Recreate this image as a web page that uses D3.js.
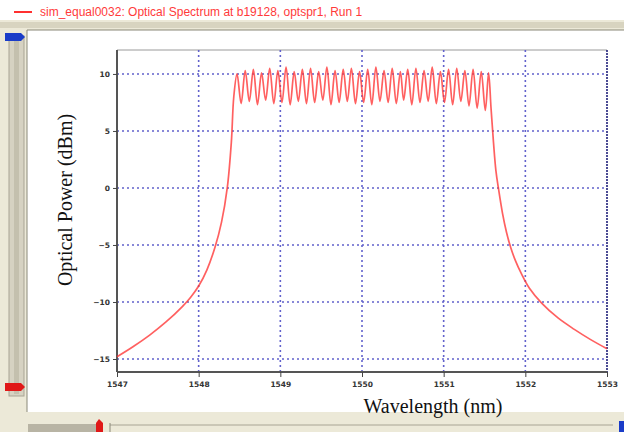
<!DOCTYPE html>
<html>
<head>
<meta charset="UTF-8">
<title>Optical Spectrum</title>
<script src="https://cdn.jsdelivr.net/npm/d3@7/dist/d3.min.js"></script>
<style>
  body { margin: 0; background: #fff; }
  svg { display: block; }
</style>
</head>
<body>
<script>
// --- data ---
var xTicks = [1547, 1548, 1549, 1550, 1551, 1552, 1553];
var yTicks = [10, 5, 0, -5, -10, -15];

// left skirt
var leftWl  = [1547.0, 1547.2, 1547.4, 1547.6, 1547.8, 1547.9, 1548.0, 1548.1, 1548.2, 1548.28, 1548.35, 1548.4, 1548.43];
var leftDbm = [-14.8, -13.9, -12.9, -11.75, -10.4, -9.6, -8.6, -7.2, -5.2, -3.0, 0.0, 4.0, 8.0];

// ripple on the flat top: peak, trough, peak, ...
var rippleWl = [1548.47, 1548.52, 1548.57, 1548.62, 1548.67, 1548.72, 1548.77, 1548.82, 1548.87, 1548.92,
  1548.97, 1549.02, 1549.07, 1549.12, 1549.17, 1549.22, 1549.27, 1549.32, 1549.37, 1549.42,
  1549.47, 1549.52, 1549.57, 1549.62, 1549.67, 1549.72, 1549.77, 1549.82, 1549.87, 1549.92,
  1549.97, 1550.02, 1550.07, 1550.12, 1550.17, 1550.22, 1550.27, 1550.32, 1550.37, 1550.42,
  1550.47, 1550.51, 1550.56, 1550.61, 1550.66, 1550.71, 1550.76, 1550.81, 1550.86, 1550.91,
  1550.96, 1551.01, 1551.06, 1551.11, 1551.16, 1551.21, 1551.26, 1551.31, 1551.36, 1551.41,
  1551.46, 1551.51, 1551.55];
var rippleDbm = [10.0, 7.4, 10.3, 7.6, 10.4, 7.3, 10.1, 7.7, 10.5, 7.4,
  10.3, 7.5, 10.6, 7.3, 10.2, 7.6, 10.4, 7.4, 10.5, 7.5,
  10.2, 7.7, 10.6, 7.3, 10.3, 7.5, 10.4, 7.6, 10.5, 7.4,
  10.2, 7.5, 10.4, 7.3, 10.6, 7.6, 10.3, 7.5, 10.5, 7.4,
  10.2, 7.7, 10.4, 7.3, 10.5, 7.5, 10.3, 7.6, 10.6, 7.4,
  10.2, 7.5, 10.4, 7.3, 10.5, 7.6, 10.3, 7.2, 10.4, 7.0,
  10.2, 6.8, 10.1];

// right skirt
var rightWl  = [1551.58, 1551.61, 1551.64, 1551.67, 1551.72, 1551.77, 1551.82, 1551.88, 1551.95, 1552.05, 1552.2, 1552.4, 1552.6, 1552.8, 1553.0];
var rightDbm = [7.0, 4.0, 1.5, 0.0, -2.2, -3.9, -5.2, -6.4, -7.5, -8.8, -10.1, -11.4, -12.4, -13.3, -14.1];

var legendText = "sim_equal0032: Optical Spectrum at b19128, optspr1, Run 1";

// --- layout ---
var W = 624, H = 432;
var pLeft = 117, pRight = 607, pTop = 50, pBottom = 372;

var svg = d3.select("body").append("svg")
  .attr("width", W)
  .attr("height", H);

// window chrome
svg.append("rect").attr("x", 0).attr("y", 0).attr("width", W).attr("height", H).attr("fill", "#fff");
svg.append("rect").attr("x", 0).attr("y", 20).attr("width", W).attr("height", 412).attr("fill", "#ece9d8");
svg.append("rect").attr("x", 0).attr("y", 22).attr("width", W).attr("height", 6).attr("fill", "#d8d4c0");
svg.append("rect").attr("x", 27).attr("y", 30).attr("width", W - 27).attr("height", 382).attr("fill", "#fff");
svg.append("line").attr("x1", 27).attr("x2", W).attr("y1", 30).attr("y2", 30).attr("stroke", "#8a8878");
svg.append("line").attr("x1", 27).attr("x2", 27).attr("y1", 30).attr("y2", 412).attr("stroke", "#8a8878");

// left slider track
svg.append("rect").attr("x", 9).attr("y", 36).attr("width", 15).attr("height", 360)
  .attr("fill", "#d6d2c2").attr("stroke", "#a8a494");
svg.append("rect").attr("x", 14).attr("y", 38).attr("width", 5).attr("height", 356).attr("fill", "#c4c0ae");
svg.append("path").attr("d", "M5,33 L21,33 L25,37 L21,41 L5,41 Z").attr("fill", "#1a3cc8");
svg.append("path").attr("d", "M5,383 L21,383 L25,387 L21,391 L5,391 Z").attr("fill", "#e01818");

// bottom slider track
svg.append("rect").attr("x", 28).attr("y", 424).attr("width", 68).attr("height", 8).attr("fill", "#b8b4a4");
svg.append("line").attr("x1", 110).attr("x2", 613).attr("y1", 425).attr("y2", 425).attr("stroke", "#a8a494");
svg.append("line").attr("x1", 110).attr("x2", 110).attr("y1", 423).attr("y2", 432).attr("stroke", "#8a8878");
svg.append("path").attr("d", "M96,432 L96,423 L99,419 L103,423 L103,432 Z").attr("fill", "#e01818");
svg.append("rect").attr("x", 619).attr("y", 421).attr("width", 5).attr("height", 11).attr("fill", "#1a3cc8");

// legend
svg.append("line").attr("x1", 14).attr("x2", 32).attr("y1", 12).attr("y2", 12)
  .attr("stroke", "#ff3030").attr("stroke-width", 2);
svg.append("text").attr("x", 40).attr("y", 16)
  .attr("font-family", "Liberation Sans, Arial, sans-serif")
  .attr("font-size", 12).attr("fill", "#ff3a3a")
  .text(legendText);

// --- scales ---
var x = d3.scaleLinear().domain([1547, 1553]).range([pLeft, pRight]);
var y = d3.scaleLinear().domain([-16.14, 12.1]).range([pBottom, pTop]);

// frame top
svg.append("line").attr("x1", pLeft).attr("x2", pRight).attr("y1", pTop).attr("y2", pTop)
  .attr("stroke", "#9a9a9a");

// grid
var grid = svg.append("g");
grid.selectAll(".hg").data(yTicks).enter().append("line")
  .attr("x1", pLeft).attr("x2", pRight)
  .attr("y1", function(d) { return y(d); }).attr("y2", function(d) { return y(d); })
  .attr("stroke", "#6262cc").attr("stroke-width", 1.6).attr("stroke-dasharray", "2,3");
grid.selectAll(".vg").data(xTicks).enter().append("line")
  .attr("x1", function(d) { return x(d); }).attr("x2", function(d) { return x(d); })
  .attr("y1", pTop).attr("y2", pBottom)
  .attr("stroke", function(d) { return d === 1553 ? "#20207a" : "#6262cc"; })
  .attr("stroke-width", 1.6)
  .attr("stroke-dasharray", function(d) { return d === 1553 ? "2,1" : "2,3"; })
  .style("display", function(d) { return d === 1547 ? "none" : null; });

// axes
var xAxis = d3.axisBottom(x).tickValues(xTicks).tickSize(5).tickFormat(d3.format("d"));
var yAxis = d3.axisLeft(y).tickValues(yTicks).tickSize(4).tickFormat(d3.format("d"));

var gx = svg.append("g").attr("transform", "translate(0," + pBottom + ")").call(xAxis);
var gy = svg.append("g").attr("transform", "translate(" + pLeft + ",0)").call(yAxis);

[gx, gy].forEach(function(g) {
  g.select(".domain").attr("stroke", "#555").attr("stroke-width", 2);
  g.selectAll(".tick line").attr("stroke", "#444");
  g.selectAll(".tick text")
    .attr("font-family", "DejaVu Sans, sans-serif")
    .attr("font-size", 7.5).attr("font-weight", "bold").attr("fill", "#333");
});
gy.select(".domain").attr("d", "M0," + pTop + "V" + pBottom);
gx.select(".domain").attr("d", "M" + pLeft + ",0H" + pRight);
gx.selectAll(".tick text").attr("dy", "0.9em");

// axis titles
svg.append("text")
  .attr("transform", "translate(72,200) rotate(-90)")
  .attr("text-anchor", "middle")
  .attr("font-family", "Liberation Serif, Times New Roman, serif")
  .attr("font-size", 20).attr("fill", "#111")
  .text("Optical Power (dBm)");
svg.append("text")
  .attr("x", 433).attr("y", 413)
  .attr("text-anchor", "middle")
  .attr("font-family", "Liberation Serif, Times New Roman, serif")
  .attr("font-size", 20).attr("fill", "#111")
  .text("Wavelength (nm)");

// spectrum
var wl = leftWl.concat(rippleWl, rightWl);
var pw = leftDbm.concat(rippleDbm, rightDbm);
var pts = wl.map(function(d, i) { return [d, pw[i]]; });

var line = d3.line()
  .x(function(d) { return x(d[0]); })
  .y(function(d) { return y(d[1]); })
  .curve(d3.curveCatmullRom.alpha(0.5));

svg.append("path")
  .datum(pts)
  .attr("d", line)
  .attr("fill", "none")
  .attr("stroke", "#ff3838")
  .attr("stroke-opacity", 0.8)
  .attr("stroke-width", 1.7);
</script>
</body>
</html>
